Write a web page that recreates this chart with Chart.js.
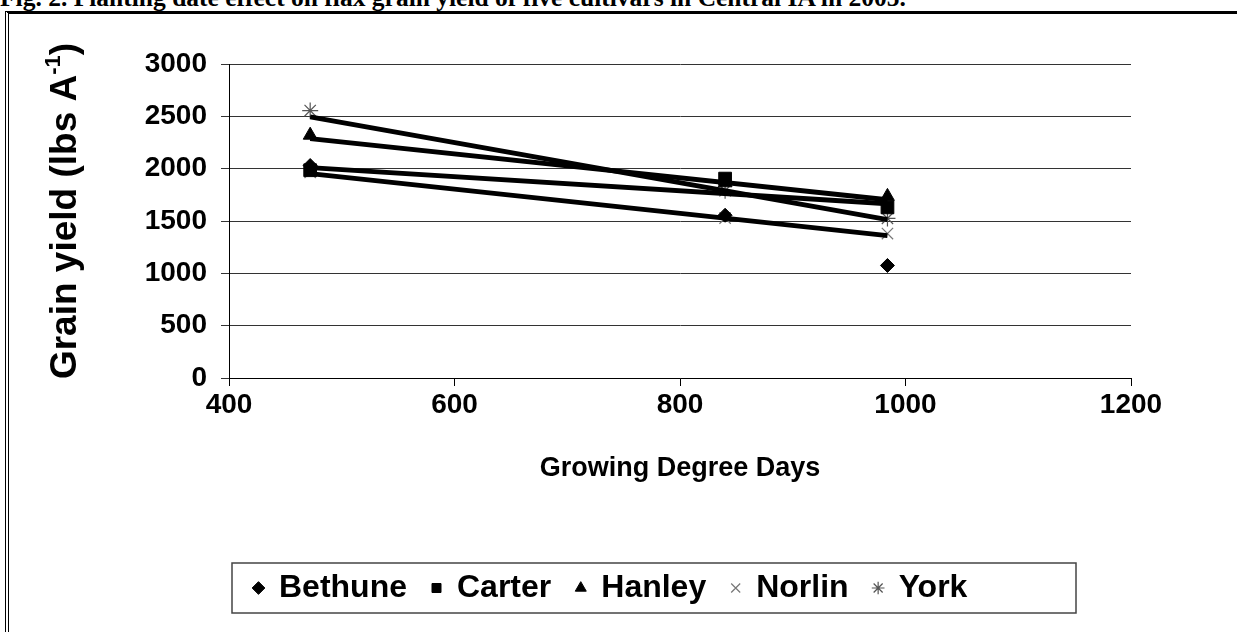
<!DOCTYPE html>
<html>
<head>
<meta charset="utf-8">
<script src="https://cdn.jsdelivr.net/npm/chart.js@4.4.1/dist/chart.umd.min.js"></script>
<style>
body { margin:0; background:#fff; width:1237px; height:632px; overflow:hidden; position:relative; }
#titulo { position:absolute; left:0; top:-16px; font:bold 25.5px "Liberation Serif","Times New Roman",serif; line-height:28px; white-space:nowrap; color:#000; }
#moldura { position:absolute; left:5px; top:11px; width:1260px; height:660px; border-top:3px solid #000; border-left:4px double #000; }
#grafico { position:absolute; left:0; top:0; }
</style>
</head>
<body>
<div id="titulo">Fig. 2. Planting date effect on flax grain yield of five cultivars in Central IA in 2005.</div>
<div id="moldura"></div>
<canvas id="grafico" width="1237" height="632"></canvas>
<script>
// valores
var gdd = [472, 840, 984];
var bethune = [2030, 1555, 1075];
var carter = [1985, 1905, 1630];
var hanley = [2320, 1865, 1735];
var norlin = [1965, 1528, 1380];
var york = [2555, 1790, 1525];

// linhas de tendencia (valor no primeiro e no ultimo GDD)
var gddTendencia = [472, 984];
var carterTend = [2010, 1665];
var hanleyTend = [2287, 1703];
var norlinTend = [1953, 1361];
var yorkTend = [2494, 1514];

var ticksX = [400, 600, 800, 1000, 1200];
var ticksY = [0, 500, 1000, 1500, 2000, 2500, 3000];

var fonte = 'Arial, "Liberation Sans", sans-serif';

function pontos(xs, ys) {
    return xs.map(function (x, i) { return { x: x, y: ys[i] }; });
}

function serie(nome, ys, estilo, raio, cor, espessura) {
    return {
        label: nome,
        data: pontos(gdd, ys),
        showLine: false,
        pointStyle: estilo,
        pointRadius: raio,
        backgroundColor: cor,
        borderColor: cor,
        borderWidth: espessura,
        order: 1
    };
}

function tendencia(ys) {
    return {
        label: "tend",
        type: "line",
        data: pontos(gddTendencia, ys),
        borderColor: "#000",
        borderWidth: 4.8,
        pointRadius: 0,
        fill: false,
        order: 0
    };
}

// titulo do eixo y com expoente
var tituloY = {
    id: "tituloY",
    afterDraw: function (chart) {
        var ctx = chart.ctx;
        ctx.save();
        ctx.translate(66, 211);
        ctx.rotate(-Math.PI / 2);
        ctx.fillStyle = "#000";
        ctx.textBaseline = "middle";
        var a = "Grain yield (lbs A", b = "-1", c = ")";
        ctx.font = "bold 37px " + fonte;
        var wa = ctx.measureText(a).width, wc = ctx.measureText(c).width;
        ctx.font = "bold 22px " + fonte;
        var wb = ctx.measureText(b).width;
        var x0 = -(wa + wb + wc) / 2;
        ctx.font = "bold 37px " + fonte;
        ctx.fillText(a, x0, 0);
        ctx.fillText(c, x0 + wa + wb, 0);
        ctx.font = "bold 22px " + fonte;
        ctx.fillText(b, x0 + wa, -12);
        ctx.restore();
    }
};

// moldura da legenda
var caixaLegenda = {
    id: "caixaLegenda",
    afterDraw: function (chart) {
        var caixas = chart.legend.legendHitBoxes;
        if (!caixas || !caixas.length) return;
        var esq = caixas[0].left;
        var meio = caixas[0].top + caixas[0].height / 2;
        var ctx = chart.ctx;
        ctx.save();
        ctx.strokeStyle = "#444";
        ctx.lineWidth = 1.5;
        ctx.strokeRect(esq - 22, meio - 25, 844, 50);
        ctx.restore();
    }
};

new Chart(grafico.getContext("2d"), {
    type: "scatter",
    data: {
        datasets: [
            tendencia(yorkTend),
            tendencia(hanleyTend),
            tendencia(carterTend),
            tendencia(norlinTend),
            serie("Bethune", bethune, "rectRot", 7, "#000", 1),
            serie("Carter", carter, "rect", 9, "#000", 1),
            serie("Hanley", hanley, "triangle", 8, "#000", 1),
            serie("Norlin", norlin, "crossRot", 8, "#777", 1.2),
            serie("York", york, "star", 8, "#555", 1.2)
        ]
    },
    options: {
        responsive: false,
        animation: false,
        layout: { padding: { left: 0, right: 106, top: 64, bottom: 18 } },
        scales: {
            x: {
                type: "linear",
                min: ticksX[0],
                max: ticksX[ticksX.length - 1],
                afterBuildTicks: function (s) { s.ticks = ticksX.map(function (v) { return { value: v }; }); },
                afterFit: function (s) { s.height = 169; },
                ticks: {
                    color: "#000",
                    font: { family: fonte, size: 28, weight: "bold" },
                    padding: 2,
                    maxRotation: 0,
                    callback: function (v) { return String(v); }
                },
                grid: { drawOnChartArea: false, drawTicks: true, tickLength: 8, color: "#000" },
                border: { color: "#000", width: 1 },
                title: {
                    display: true,
                    text: "Growing Degree Days",
                    color: "#000",
                    font: { family: fonte, size: 27, weight: "bold" },
                    padding: { top: 62, bottom: 62 }
                }
            },
            y: {
                min: ticksY[0],
                max: ticksY[ticksY.length - 1],
                afterBuildTicks: function (s) { s.ticks = ticksY.map(function (v) { return { value: v }; }); },
                afterFit: function (s) { s.width = 229; },
                ticks: {
                    color: "#000",
                    font: { family: fonte, size: 28, weight: "bold" },
                    padding: 14,
                    callback: function (v) { return String(v); }
                },
                grid: { color: "#333", lineWidth: 1, tickLength: 8 },
                border: { color: "#000", width: 1 }
            }
        },
        plugins: {
            legend: {
                position: "bottom",
                align: "start",
                fullSize: false,
                labels: {
                    filter: function (item) { return item.text !== "tend"; },
                    usePointStyle: true,
                    boxWidth: 9,
                    boxHeight: 9,
                    padding: 25,
                    color: "#000",
                    font: { family: fonte, size: 32, weight: "bold" }
                }
            },
            tooltip: { enabled: false }
        }
    },
    plugins: [tituloY, caixaLegenda]
});
</script>
</body>
</html>
